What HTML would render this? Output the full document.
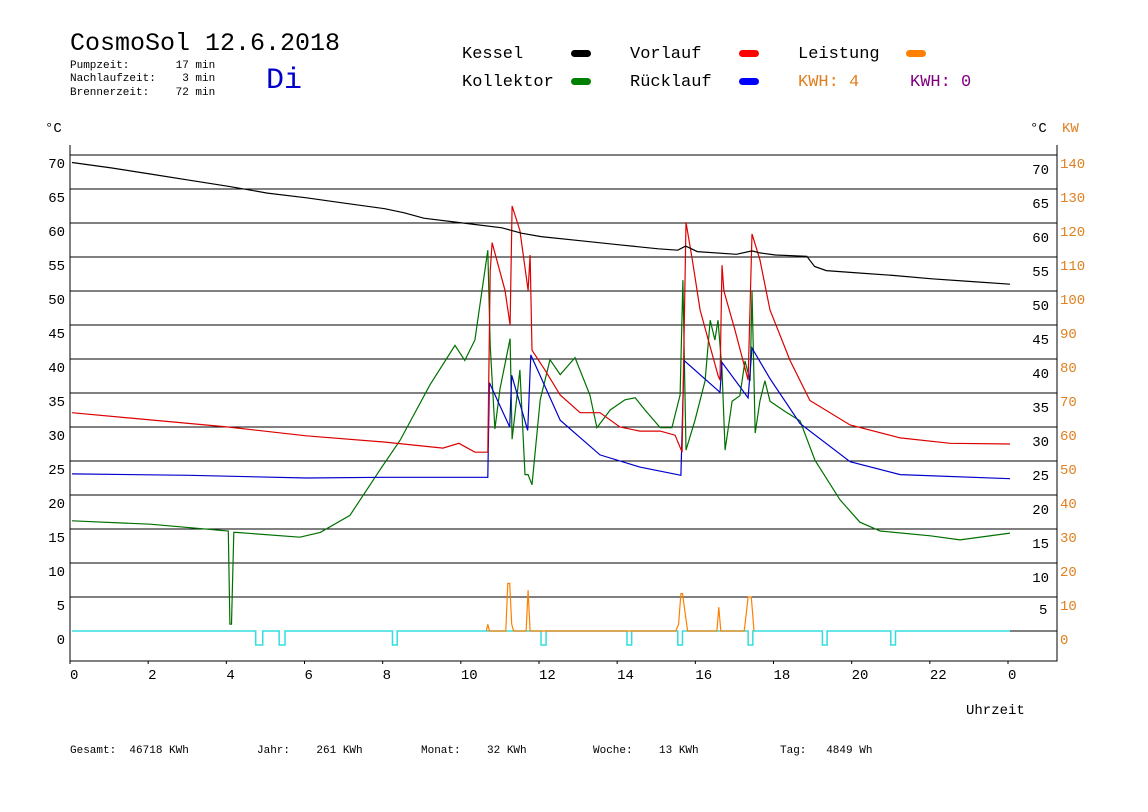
<!DOCTYPE html>
<html><head><meta charset="utf-8"><style>
html,body{margin:0;padding:0;background:#fff;}
svg{display:block;font-family:"Liberation Mono",monospace;}
.pre{white-space:pre;}
</style></head><body>
<svg width="1148" height="812" viewBox="0 0 1148 812">
<g>
<text x="70" y="50" font-size="25" fill="#000">CosmoSol 12.6.2018</text>
<text class="pre" x="70" y="68" font-size="11">Pumpzeit:       17 min</text>
<text class="pre" x="70" y="81" font-size="11">Nachlaufzeit:    3 min</text>
<text class="pre" x="70" y="95" font-size="11">Brennerzeit:    72 min</text>
<text x="266" y="88" font-size="30" fill="#0000cc">Di</text>
</g>
<g font-size="17">
<text x="462" y="58">Kessel</text>
<rect x="571" y="50" width="20" height="7" rx="3.5" fill="#000"/>
<text x="462" y="86">Kollektor</text>
<rect x="571" y="78" width="20" height="7" rx="3.5" fill="#008000"/>
<text x="630" y="58">Vorlauf</text>
<rect x="739" y="50" width="20" height="7" rx="3.5" fill="#ff0000"/>
<text x="630" y="86">Rücklauf</text>
<rect x="739" y="78" width="20" height="7" rx="3.5" fill="#0000ff"/>
<text x="798" y="58">Leistung</text>
<rect x="906" y="50" width="20" height="7" rx="3.5" fill="#ff8000"/>
<text x="798" y="86" fill="#e08020">KWH: 4</text>
<text x="910" y="86" fill="#800080">KWH: 0</text>
</g>
<g id="plot"></g>
<g font-size="11">
<text class="pre" x="70" y="753">Gesamt:  46718 KWh</text>
<text class="pre" x="257" y="753">Jahr:    261 KWh</text>
<text class="pre" x="421" y="753">Monat:    32 KWh</text>
<text class="pre" x="593" y="753">Woche:    13 KWh</text>
<text class="pre" x="780" y="753">Tag:   4849 Wh</text>
</g>
</svg>
<script>
const yTicks=[0,5,10,15,20,25,30,35,40,45,50,55,60,65,70];
const kwTicks=[0,10,20,30,40,50,60,70,80,90,100,110,120,130,140];
const xTickLabels=["0","2","4","6","8","10","12","14","16","18","20","22","0"];
const kesselH=[0,1,2,3,4,5,6,7,8,8.5,9,10,11,11.5,12,13,14,15,15.5,15.7,16,17,17.4,17.6,18,18.8,19,19.3,20,21,22,23,24];
const kesselV=[68.9,68.1,67.2,66.3,65.4,64.4,63.7,62.9,62.1,61.5,60.7,60,59.3,58.5,58,57.4,56.8,56.2,56.0,56.6,55.8,55.4,55.9,55.6,55.3,55.1,53.6,53,52.7,52.3,51.8,51.4,51];
const vorlaufH=[0,3.99,5.99,7.98,9.49,9.9,10.31,10.64,10.70,10.75,11.08,11.21,11.26,11.46,11.67,11.72,11.77,12.1,12.49,13,13.51,14.02,14.53,15.05,15.43,15.61,15.71,15.87,16.07,16.53,16.58,16.63,16.68,16.96,17.3,17.4,17.6,17.86,18.37,18.88,19.91,21.19,22.47,24];
const vorlaufV=[32.1,30,28.7,27.8,26.9,27.6,26.3,26.3,52.9,57.1,50.1,45,62.5,58.9,50.1,55.3,41.3,38.4,34.7,32.1,32.1,30,29.4,29.4,28.8,26.3,60.1,54.6,47.2,37.6,36.9,53.8,50,44.3,36.9,58.4,54.6,47.2,39.8,33.9,30.3,28.4,27.6,27.5];
const ruecklaufH=[0,3,6,8,10,10.64,10.68,11.2,11.25,11.66,11.74,12.49,13.51,14.53,15.58,15.66,16.58,16.63,17.3,17.4,17.86,18.63,19.91,21.19,24];
const ruecklaufV=[23.1,22.9,22.5,22.6,22.6,22.6,36.5,30,37.6,29.5,40.6,31,25.9,24.1,22.9,39.8,35.1,39.5,34.3,41.6,37.1,30.5,24.9,23,22.4];
const kollektorH=[0,2,4,4.04,4.08,4.14,4.2,5.83,6.35,7.11,7.88,8.39,9.16,9.8,10.05,10.31,10.64,10.70,10.82,10.95,11.21,11.26,11.46,11.59,11.67,11.77,11.98,12.23,12.49,12.87,13.25,13.43,13.77,14.15,14.41,14.66,15.05,15.35,15.56,15.63,15.71,15.94,16.2,16.33,16.45,16.53,16.63,16.71,16.89,17.09,17.22,17.35,17.4,17.48,17.6,17.73,17.86,18.24,18.63,19.01,19.65,20.16,20.68,21.96,22.72,24];
const kollektorV=[16.2,15.7,14.7,1,1,14.5,14.5,13.8,14.5,17,23.7,28,36.2,42,39.8,42.8,56,42,29.7,35.6,43,28.2,38.4,23,23,21.5,34,39.9,37.7,40.2,34.7,29.9,32.5,34,34.3,32.5,29.9,29.9,34.7,51.6,26.6,31,36.8,45.7,42.8,45.7,38.4,26.6,33.8,34.6,39.7,36.8,50,29.1,33.8,36.8,33.8,32.3,30.9,25.1,19.3,16,14.7,14,13.4,14.4];
const leistungH=[10.6,10.64,10.68,11.1,11.15,11.2,11.25,11.3,11.62,11.67,11.72,15.45,15.52,15.58,15.62,15.68,15.75,16.5,16.55,16.6,17.2,17.25,17.3,17.38,17.45];
const leistungKW=[0,2,0,0,14,14,2,0,0,12,0,0,2,11,11,6,0,0,7,0,0,5,10,10,0];
const pumpStart=[4.7,5.3,8.2,12.0,14.2,15.5,17.3,19.2,20.95];
const pumpWidth=[0.18,0.15,0.12,0.13,0.12,0.12,0.12,0.12,0.12];

const NS="http://www.w3.org/2000/svg";
const plot=document.getElementById('plot');
const X0=72,XW=938,Y0=631,PY=6.8;
function xs(h){return X0+h/24*XW;}
function ys(t){return Y0-t*PY;}
function ysKW(k){return Y0-k/2*PY;}
function mk(tag,attrs){const e=document.createElementNS(NS,tag);for(const k in attrs)e.setAttribute(k,attrs[k]);plot.appendChild(e);return e;}

for(let i=0;i<yTicks.length;i++){
  const y=ys(yTicks[i]);
  if(yTicks[i]>0){
    const g=mk('line',{x1:70,x2:1057,y1:y,y2:y,stroke:'#000','stroke-width':1});
    
    
  }
  const l=mk('text',{x:65,y:y+13,'font-size':14,'text-anchor':'end',fill:'#000'});
  l.textContent=yTicks[i];
  
  
  if(yTicks[i]>5){
    const r=mk('text',{x:1049,y:y+19,'font-size':14,'text-anchor':'end',fill:'#000'});
    r.textContent=yTicks[i];
    
    
  }
  const k=mk('text',{x:1060,y:y+13,'font-size':14,fill:'#e08020'});
  k.textContent=kwTicks[i];
  
  
}
const r5=mk('text',{x:1039,y:ys(5)+17,'font-size':14,fill:'#000'});
r5.textContent='5';


[['°C',45,132,'#000'],['°C',1030,132,'#000'],['KW',1062,132,'#e08020']].forEach(a=>{
  const t=mk('text',{x:a[1],y:a[2],'font-size':14,fill:a[3]});
  t.textContent=a[0];
  
  
});
const ax=mk('path',{d:'M70 145 V661 H1057 V145',fill:'none',stroke:'#000','stroke-width':1});


const zl=mk('line',{x1:1010,x2:1057,y1:Y0,y2:Y0,stroke:'#000'});


for(let i=0;i<xTickLabels.length;i++){
  const x=xs(i*2);
  const tk=mk('line',{x1:x-2,x2:x-2,y1:661,y2:664,stroke:'#000'});
  
  
  const t=mk('text',{x:x-2,y:679,'font-size':14});
  t.textContent=xTickLabels[i];
  
  
}
const ut=mk('text',{x:966,y:714,'font-size':14});
ut.textContent='Uhrzeit';



let pd='M'+xs(0)+' '+Y0;
for(let i=0;i<pumpStart.length;i++){
  const a=xs(pumpStart[i]),b=xs(pumpStart[i]+pumpWidth[i]);
  pd+=' H'+a+' V'+(Y0+14)+' H'+b+' V'+Y0;
}
pd+=' H'+xs(24);
const pl=mk('path',{d:pd,fill:'none',stroke:'#33dddd','stroke-width':1.5});



function series(H,V,fn,color,name){
  let d='';
  for(let i=0;i<H.length;i++)d+=(i?'L':'M')+xs(H[i]).toFixed(1)+' '+fn(V[i]).toFixed(1);
  const p=mk('path',{d:d,fill:'none',stroke:color,'stroke-width':1.2});
  
  
}
series(leistungH,leistungKW,ysKW,'#ff8000','leistung-line');
series(kollektorH,kollektorV,ys,'#007000','kollektor-line');
series(ruecklaufH,ruecklaufV,ys,'#0000cc','ruecklauf-line');
series(vorlaufH,vorlaufV,ys,'#dd0000','vorlauf-line');
series(kesselH,kesselV,ys,'#000','kessel-line');
</script>
</body></html>
